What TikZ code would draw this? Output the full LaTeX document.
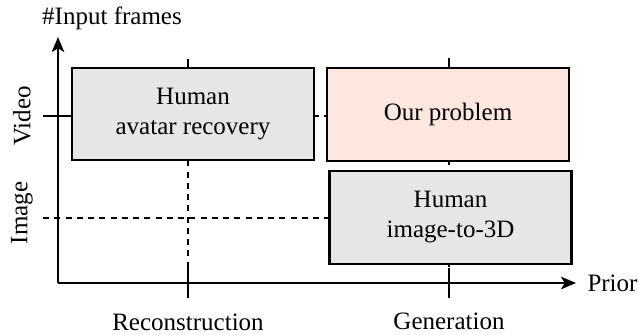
\documentclass[tikz,border=0pt]{standalone}
\usepackage{fontspec}
\setmainfont{Liberation Serif}
\usepackage{tikz}
\usepackage{xcolor}
\usetikzlibrary{arrows.meta,positioning}
\definecolor{boxgray}{HTML}{E6E6E6}
\definecolor{boxpink}{HTML}{FDE7DF}

\begin{document}
\begin{tikzpicture}[x=0.4pt, y=-0.4pt, >={Stealth[length=6pt,width=5pt,inset=1.5pt]},
    font=\fontsize{10}{12}\selectfont,
    axis/.style={line width=0.85pt},
    guide/.style={line width=0.85pt, dash pattern=on 2.4pt off 2.1pt},
    tick/.style={line width=0.85pt},
    area/.style={draw, line width=0.85pt, minimum width=96.8pt, minimum height=37pt,
      align=center, inner sep=0pt}]
  \useasboundingbox (0,0) rectangle (639,334);

  % axes
  \coordinate (o) at (58,283);
  \coordinate (xtip) at (576,283);
  \coordinate (ytip) at (58,37);
  \draw[->, axis] (o) -- (xtip);
  \draw[->, axis] (o) -- (ytip);
  \node[anchor=west, inner sep=0pt] (prior) at (587,283) {Prior};
  \node (frames) at (112,18) {\#Input frames};

  % grid lines
  \coordinate (rtop) at (188,59);
  \coordinate (rbot) at (188,298);
  \coordinate (gtop) at (449,58);
  \coordinate (gbot) at (449,298);
  \coordinate (vleft) at (43,116);
  \coordinate (vright) at (449,116);
  \coordinate (ileft) at (43,218);
  \coordinate (iright) at (449,218);
  \draw[guide] (rtop) -- (rbot);
  \draw[guide] (gtop) -- (gbot);
  \draw[guide] (vleft) -- (vright);
  \draw[guide] (ileft) -- (iright);
  % solid ticks
  \draw[tick] (188,268) -- (rbot);
  \draw[tick] (449,268) -- (gbot);
  \draw[tick] (rtop) -- (188,68);
  \draw[tick] (gtop) -- (449,68);
  \draw[tick] (vleft) -- (72,116);

  % tick labels
  \node (recon) at (188,322) {Reconstruction};
  \node (gen) at (449,321) {Generation};
  \node[rotate=90] (video) at (22,116) {Video};
  \node[rotate=90] (image) at (22,213) {Image};

  % regions
  \node[area, fill=boxgray] (avatar) at (193,114) {Human\\avatar recovery};
  \node[area, fill=boxpink] (ours) at (448,114.5) {Our problem};
  \node[area, fill=boxgray] (img3d) at (450.5,217.5) {Human\\image-to-3D};
\end{tikzpicture}
\end{document}
